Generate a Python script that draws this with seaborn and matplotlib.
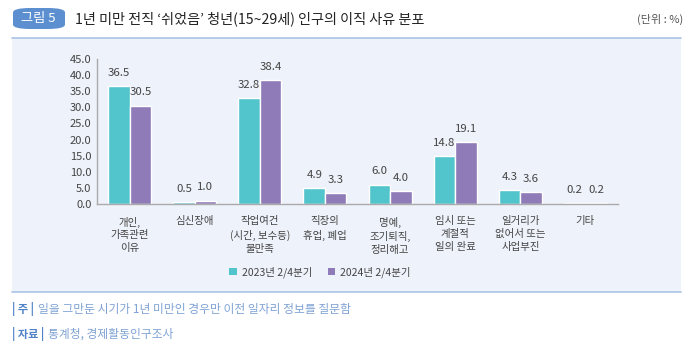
import pandas as pd
import matplotlib.pyplot as plt
import seaborn as sns
from matplotlib.patches import FancyBboxPatch, Rectangle
from matplotlib.lines import Line2D

# Data
categories = ["개인,\n가족관련\n이유", "심신장애", "작업여건\n(시간, 보수등)\n불만족",
              "직장의\n휴업, 폐업", "명예,\n조기퇴직,\n정리해고", "임시 또는\n계절적\n일의 완료",
              "일거리가\n없어서 또는\n사업부진", "기타"]
series_names = ["2023년 2/4분기", "2024년 2/4분기"]
values_2023 = [36.5, 0.5, 32.8, 4.9, 6.0, 14.8, 4.3, 0.2]
values_2024 = [30.5, 1.0, 38.4, 3.3, 4.0, 19.1, 3.6, 0.2]
y_ticks = [0, 5, 10, 15, 20, 25, 30, 35, 40, 45]

title = "1년 미만 전직 ‘쉬었음’ 청년(15~29세) 인구의 이직 사유 분포"
note = "일을 그만둔 시기가 1년 미만인 경우만 이전 일자리 정보를 질문함"
source = "통계청, 경제활동인구조사"

df = pd.DataFrame({
    "category": categories * 2,
    "series": [series_names[0]] * len(categories) + [series_names[1]] * len(categories),
    "value": values_2023 + values_2024,
})

sns.set_theme(style="white")
plt.rcParams["font.family"] = ["Noto Sans CJK KR", "DejaVu Sans"]

teal = "#52c4cc"
purple = "#8e7bb8"
panel_bg = "#eef2fa"
text_gray = "#444444"

fig = plt.figure(figsize=(7, 3.56), dpi=100)
fig.patch.set_facecolor("white")

# panel background
fig.add_artist(Rectangle((12 / 700, 1 - 292 / 356), (681 - 12) / 700, (292 - 38) / 356,
                         transform=fig.transFigure, facecolor=panel_bg, edgecolor="none", zorder=0))
fig.add_artist(Line2D([12 / 700, 681 / 700], [1 - 37.5 / 356] * 2, transform=fig.transFigure,
                      color="#a9c3e6", lw=1.2))
fig.add_artist(Line2D([12 / 700, 681 / 700], [1 - 292 / 356] * 2, transform=fig.transFigure,
                      color="#a9c3e6", lw=1.2))

# header badge
fig.add_artist(FancyBboxPatch((13 / 700, 1 - 29 / 356), 52 / 700, 21 / 356,
                              boxstyle="round,pad=0,rounding_size=0.025",
                              transform=fig.transFigure, facecolor="#5b8fd0", edgecolor="none",
                              mutation_aspect=356 / 700))
fig.text(38 / 700, 1 - 18.5 / 356, "그림 5", color="white", fontsize=9.5, ha="center", va="center")
fig.text(75 / 700, 1 - 18.5 / 356, title, color="#222222", fontsize=10.2, ha="left", va="center")
fig.text(683 / 700, 1 - 19 / 356, "(단위 : %)", color="#555555", fontsize=8, ha="right", va="center")

# chart
ax = fig.add_axes([97 / 700, 1 - 204 / 356, (618 - 97) / 700, (204 - 59) / 356])
ax.set_facecolor("none")
sns.barplot(data=df, x="category", y="value", hue="series", palette=[teal, purple],
            width=0.66, ax=ax, legend=False, saturation=1)

for container in ax.containers:
    ax.bar_label(container, fmt="%.1f", padding=6, fontsize=8.2, color=text_gray)

ax.set_ylim(0, 45)
ax.set_xlim(-0.5, len(categories) - 0.5)
ax.set_yticks(y_ticks)
ax.set_yticklabels([f"{t:.1f}" for t in y_ticks], fontsize=8, color=text_gray)
ax.set_xticks(range(len(categories)))
ax.set_xticklabels(categories, fontsize=7.5, color=text_gray, linespacing=1.35, va="top")
ax.tick_params(axis="both", length=0)
ax.tick_params(axis="x", pad=9)
ax.tick_params(axis="y", pad=4)
ax.set_xlabel("")
ax.set_ylabel("")
for s in ["top", "right"]:
    ax.spines[s].set_visible(False)
for s in ["left", "bottom"]:
    ax.spines[s].set_color("#aaaaaa")
    ax.spines[s].set_linewidth(1)

# legend
handles = [Rectangle((0, 0), 1, 1, facecolor=c, edgecolor="none") for c in [teal, purple]]
fig.legend(handles, series_names, loc="center", bbox_to_anchor=(320 / 700, 1 - 272 / 356),
           ncol=2, frameon=False, fontsize=7.5, handlelength=0.7, handleheight=0.7,
           handletextpad=0.5, columnspacing=1.5, labelcolor=text_gray)

# notes
note_blue = "#4f82c6"
light_blue = "#7fa2d4"
fig.text(12 / 700, 1 - 309 / 356, "| 주 |", color=note_blue, fontsize=8, fontweight="bold",
         ha="left", va="center")
fig.text(38 / 700, 1 - 309 / 356, note, color=light_blue, fontsize=8.5, ha="left", va="center")
fig.text(12 / 700, 1 - 334 / 356, "| 자료 |", color=note_blue, fontsize=8, fontweight="bold",
         ha="left", va="center")
fig.text(48 / 700, 1 - 334 / 356, source, color=light_blue, fontsize=8.5, ha="left", va="center")

fig.savefig("out.png", dpi=100)
